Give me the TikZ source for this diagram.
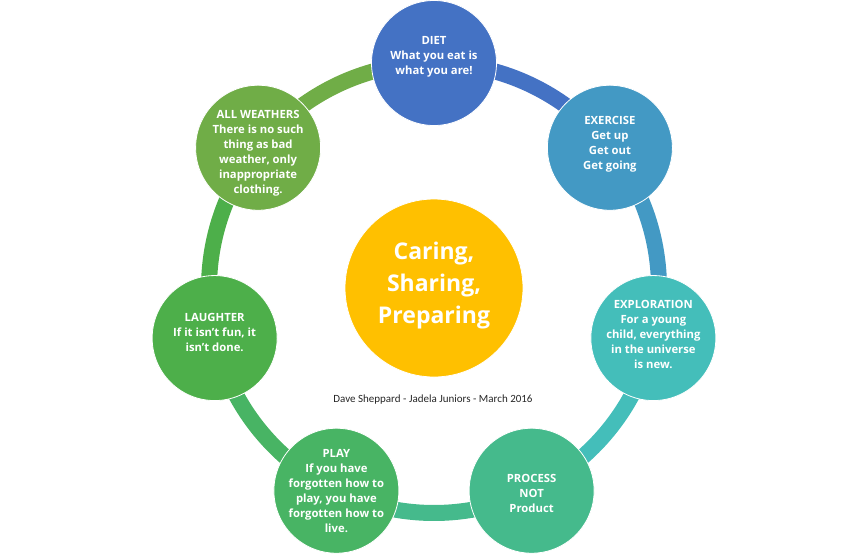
\documentclass[tikz,border=0pt]{standalone}
\usepackage{fontspec}
\setmainfont{Open Sans}
\newfontfamily\capfont{Carlito}
\usetikzlibrary{calc}
\definecolor{cdiet}{RGB}{68,114,196}
\definecolor{cexer}{RGB}{67,153,196}
\definecolor{cexpl}{RGB}{68,190,186}
\definecolor{cproc}{RGB}{69,186,140}
\definecolor{cplay}{RGB}{72,180,100}
\definecolor{claugh}{RGB}{77,175,74}
\definecolor{cweath}{RGB}{112,173,71}
\definecolor{chub}{RGB}{255,192,0}
\definecolor{ccap}{RGB}{38,38,38}
\tikzset{
  ringnode/.style={circle, draw=white, line width=0.8pt, minimum size=125pt, inner sep=0pt,
    text=white, align=center, font=\bfseries\fontsize{11.3}{15}\selectfont},
  hubnode/.style={circle, draw=white, line width=0.8pt, fill=chub, minimum size=178pt, inner sep=0pt,
    text=white, align=center, font=\bfseries\fontsize{23}{32}\selectfont},
  ringarc/.style={line width=16pt},
  captext/.style={font=\capfont\fontsize{11}{13}\selectfont, text=ccap}
}
\begin{document}
\begin{tikzpicture}[x=1pt,y=1pt]
\useasboundingbox (0,-555) rectangle (867,0);
\coordinate (hc) at (434,-288);
\foreach \k in {0,...,6} {
  \coordinate (p\k) at ($(hc)+({90-\k*360/7}:225pt)$);
}
% ring arcs
\draw[ringarc, cdiet]  (p0) arc[start angle=90, end angle={90-360/7}, radius=225pt];
\draw[ringarc, cexer]  (p1) arc[start angle={90-360/7}, end angle={90-2*360/7}, radius=225pt];
\draw[ringarc, cexpl]  (p2) arc[start angle={90-2*360/7}, end angle={90-3*360/7}, radius=225pt];
\draw[ringarc, cproc]  (p3) arc[start angle={90-3*360/7}, end angle={90-4*360/7}, radius=225pt];
\draw[ringarc, cplay]  (p4) arc[start angle={90-4*360/7}, end angle={90-5*360/7}, radius=225pt];
\draw[ringarc, claugh] (p5) arc[start angle={90-5*360/7}, end angle={90-6*360/7}, radius=225pt];
\draw[ringarc, cweath] (p6) arc[start angle={90-6*360/7}, end angle={90-7*360/7}, radius=225pt];
% circles
\node[hubnode] (hub) at (hc) {};
\node[hubnode, draw=none, fill=none] (hubtext) at ($(hc)+(0,2)$) {Caring,\\Sharing,\\Preparing};
\node[ringnode, fill=cdiet]  (n0) at (p0) {};
\node[ringnode, fill=cexer]  (n1) at (p1) {};
\node[ringnode, fill=cexpl]  (n2) at (p2) {};
\node[ringnode, fill=cproc]  (n3) at (p3) {};
\node[ringnode, fill=cplay]  (n4) at (p4) {};
\node[ringnode, fill=claugh] (n5) at (p5) {};
\node[ringnode, fill=cweath] (n6) at (p6) {};
\node[ringnode, draw=none, fill=none] (t0) at ($(n0)+(0,6)$) {DIET\\What you eat is\\what you are!};
\node[ringnode, draw=none, fill=none] (t1) at ($(n1)+(0,3)$) {EXERCISE\\Get up\\Get out\\Get going};
\node[ringnode, draw=none, fill=none] (t2) at ($(n2)+(0,4)$) {EXPLORATION\\For a young\\child, everything\\in the universe\\is new.};
\node[ringnode, draw=none, fill=none] (t3) at ($(n3)+(0,-3)$) {PROCESS\\NOT\\Product};
\node[ringnode, draw=none, fill=none] (t4) at (n4) {PLAY\\If you have\\forgotten how to\\play, you have\\forgotten how to\\live.};
\node[ringnode, draw=none, fill=none] (t5) at ($(n5)+(0,6)$) {LAUGHTER\\If it isn’t fun, it\\isn’t done.};
\node[ringnode, draw=none, fill=none] (t6) at ($(n6)+(0,-6)$) {ALL WEATHERS\\There is no such\\thing as bad\\weather, only\\inappropriate\\clothing.};
\node[captext] (cap) at (433,-400) {Dave Sheppard - Jadela Juniors - March 2016};
\end{tikzpicture}
\end{document}
